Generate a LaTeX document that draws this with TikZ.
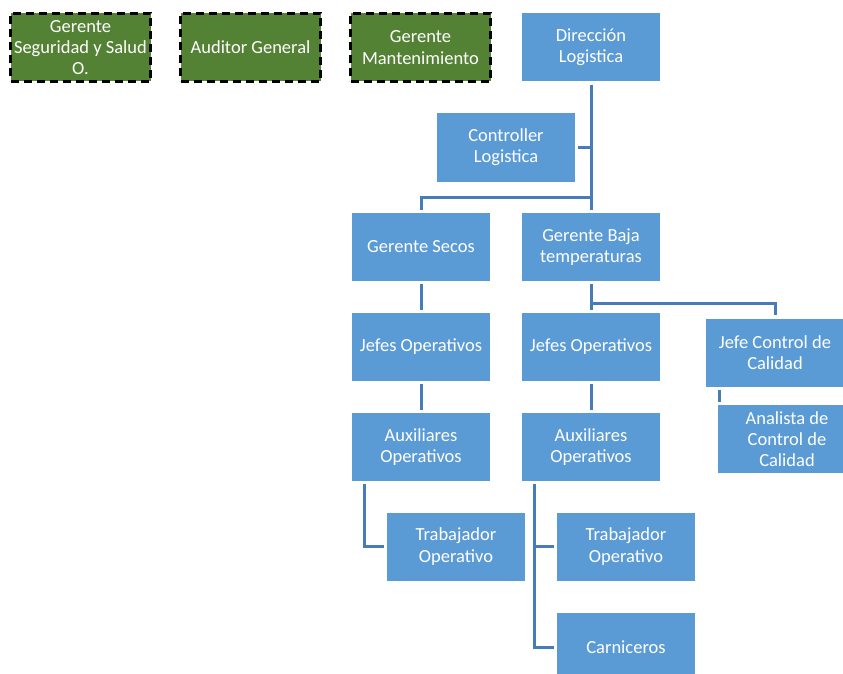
\documentclass[tikz,border=0pt]{standalone}
\usepackage{fontspec}
\setmainfont{Carlito}
\definecolor{boxblue}{RGB}{91,155,213}
\definecolor{lineblue}{RGB}{70,125,185}
\definecolor{boxgreen}{RGB}{84,130,53}
\begin{document}
\begin{tikzpicture}[x=1pt,y=-1pt,
  bbox/.style={fill=boxblue,text=white,minimum width=138pt,minimum height=68pt,
     align=center,inner sep=1pt,font=\fontsize{18.5}{21.3}\selectfont},
  gbox/.style={fill=boxgreen,draw=black,line width=2.3pt,dash pattern=on 8pt off 5pt,
     text=white,minimum width=140pt,minimum height=68pt,align=center,inner sep=0pt,
     font=\fontsize{18.5}{21.3}\selectfont},
  conn/.style={draw=lineblue,line width=3pt}]
\useasboundingbox (0,0) rectangle (843,674);
\clip (0,0) rectangle (843,674);
\node[gbox] (seg) at (80.5,47.5) {Gerente\\Seguridad y Salud\\O.};
\node[gbox] (aud) at (250.5,47.5) {Auditor General};
\node[gbox] (man) at (420.5,47.5) {Gerente\\Mantenimiento};
\node[bbox] (dir) at (591,47.5) {Dirección\\Logistica};
\node[bbox] (ctrl) at (506,147.5) {Controller\\Logistica};
\node[bbox] (secos) at (421,247) {Gerente Secos};
\node[bbox] (baja) at (591,247) {Gerente Baja\\temperaturas};
\node[bbox] (jefL) at (421,347) {Jefes Operativos};
\node[bbox] (jefR) at (591,347) {Jefes Operativos};
\node[bbox] (jcc) at (775,352.5) {Jefe Control de\\Calidad};
\node[bbox] (ana) at (787,439) {Analista de\\Control de\\Calidad};
\node[bbox] (auxL) at (421,447) {Auxiliares\\Operativos};
\node[bbox] (auxR) at (591,447) {Auxiliares\\Operativos};
\node[bbox] (trabL) at (456,546.5) {Trabajador\\Operativo};
\node[bbox] (trabR) at (626,546.5) {Trabajador\\Operativo};
\node[bbox] (carn) at (626,647) {Carniceros};
% connectors
\coordinate (b1) at (591,197);
\coordinate (b2) at (591,303);
\coordinate (lx) at (364,0);
\coordinate (rx) at (534,0);
\draw[conn,shorten <=3pt,shorten >=3pt] (dir.south) -- (baja.north);
\draw[conn,shorten <=3pt] (ctrl.east) -- (ctrl.east -| dir.south);
\draw[conn,shorten >=3pt] (b1) -| (secos.north);
\draw[conn,shorten <=3pt,shorten >=3pt] (secos.south) -- (jefL.north);
\draw[conn,shorten <=3pt,shorten >=3pt] (baja.south) -- (jefR.north);
\draw[conn,shorten >=3pt] (b2) -| (jcc.north);
\draw[conn,shorten <=3pt,shorten >=3pt] ([xshift=1.5pt]ana.north west) -- ([xshift=1.5pt]ana.north west |- jcc.south);
\draw[conn,shorten <=3pt,shorten >=3pt] (jefL.south) -- (auxL.north);
\draw[conn,shorten <=3pt,shorten >=3pt] (jefR.south) -- (auxR.north);
\draw[conn,shorten <=3pt,shorten >=3pt] (lx |- auxL.south) |- (trabL.west);
\draw[conn,shorten <=3pt,shorten >=3pt] (rx |- auxR.south) |- (carn.west);
\draw[conn,shorten >=3pt] (trabR.west -| rx) -- (trabR.west);
\end{tikzpicture}
\end{document}
